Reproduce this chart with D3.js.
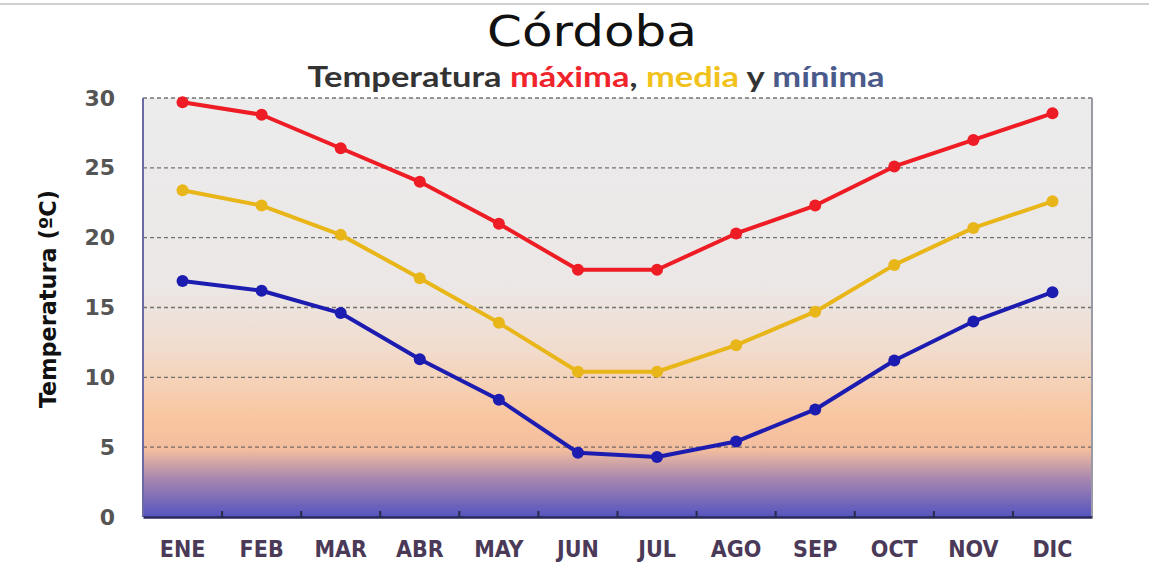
<!DOCTYPE html>
<html><head><meta charset="utf-8">
<script src="https://cdn.jsdelivr.net/npm/d3@7"></script>
<style>body{margin:0;background:#fff}svg{display:block}</style>
</head><body>
<svg id="c" width="1149" height="568"></svg>
<script>
const months = ["ENE","FEB","MAR","ABR","MAY","JUN","JUL","AGO","SEP","OCT","NOV","DIC"];
const tmax = [29.7,28.8,26.4,24.0,21.0,17.7,17.7,20.3,22.3,25.1,27.0,28.9];
const tmed = [23.4,22.3,20.2,17.1,13.9,10.4,10.4,12.3,14.7,18.05,20.7,22.6];
const tmin = [16.9,16.2,14.6,11.3,8.4,4.6,4.3,5.4,7.7,11.2,14.0,16.1];
const yTicks = [0,5,10,15,20,25,30];

const svg = d3.select("#c");
const L = 143, R = 1092, T = 98, B = 517;

svg.append("line").attr("x1",0).attr("x2",1149).attr("y1",4).attr("y2",4).attr("stroke","#d0d0d0").attr("stroke-width",2);

const x = d3.scaleBand().domain(months).range([L,R]).padding(0);
const y = d3.scaleLinear().domain([0,30]).range([B,T]);

const defs = svg.append("defs");
const g = defs.append("linearGradient").attr("id","bg").attr("x1",0).attr("x2",0).attr("y1",0).attr("y2",1);
[[0,"#ececec"],[0.45,"#ebe7e6"],[0.6,"#f1dccd"],[0.76,"#f9c6a0"],[0.84,"#f2bd9e"],[0.91,"#a686b0"],[1,"#5454c0"]]
 .forEach(([o,c])=>g.append("stop").attr("offset",o).attr("stop-color",c));

svg.append("rect").attr("x",L).attr("y",T).attr("width",R-L).attr("height",B-T).attr("fill","url(#bg)");

svg.append("g").selectAll("line").data(yTicks.filter(d=>d>0)).join("line")
  .attr("x1",L).attr("x2",R).attr("y1",d=>y(d)).attr("y2",d=>y(d))
  .attr("stroke","#555").attr("stroke-width",1.3).attr("stroke-dasharray","4,3").attr("opacity",0.8);

svg.append("line").attr("x1",R).attr("x2",R).attr("y1",T).attr("y2",B).attr("stroke","#9a9aa6").attr("stroke-width",2);
svg.append("line").attr("x1",L).attr("x2",L).attr("y1",T).attr("y2",B).attr("stroke","#6a6aa8").attr("stroke-width",2);

const xAxis = svg.append("g").attr("transform",`translate(0,${B})`)
  .call(d3.axisBottom(x).tickSize(0).tickPadding(24));
xAxis.select(".domain").attr("stroke","#2a2a5a").attr("stroke-width",2.5);
xAxis.selectAll("text").attr("font-family","'DejaVu Sans Condensed','DejaVu Sans'").attr("font-weight","bold")
  .attr("font-size","23px").attr("fill","#4a3a58").attr("dy","0.71em");
svg.append("g").selectAll("line").data(months.slice(1)).join("line")
  .attr("x1",d=>x(d)).attr("x2",d=>x(d)).attr("y1",B).attr("y2",B-6)
  .attr("stroke","#2a2a4a").attr("stroke-width",2);

const yAxis = svg.append("g").attr("transform",`translate(${L},0)`)
  .call(d3.axisLeft(y).tickValues(yTicks).tickSize(0).tickPadding(28));
yAxis.select(".domain").remove();
yAxis.selectAll("text").attr("font-family","'DejaVu Sans', Lato").attr("font-weight","bold")
  .attr("font-size","22px").attr("fill","#555");

svg.append("text").attr("transform","translate(56,299) rotate(-90)")
  .attr("text-anchor","middle").attr("font-family","'DejaVu Sans Condensed','DejaVu Sans'").attr("font-weight","bold")
  .attr("font-size","23px").attr("fill","#111").attr("textLength",218).attr("lengthAdjust","spacingAndGlyphs")
  .text("Temperatura (ºC)");

svg.append("text").attr("x",592).attr("y",46).attr("text-anchor","middle")
  .attr("font-family","'DejaVu Sans', Lato").attr("font-size","43px").attr("fill","#111")
  .attr("textLength",210).attr("lengthAdjust","spacingAndGlyphs").text("Córdoba");
const st = svg.append("text").attr("x",596).attr("y",87).attr("text-anchor","middle")
  .attr("font-family","Lato, 'DejaVu Sans'").attr("font-weight","bold").attr("font-size","28px")
  .attr("textLength",577).attr("lengthAdjust","spacingAndGlyphs");
st.append("tspan").attr("fill","#333").text("Temperatura ");
st.append("tspan").attr("fill","#f0242a").text("máxima");
st.append("tspan").attr("fill","#333").text(", ");
st.append("tspan").attr("fill","#f2c21c").text("media");
st.append("tspan").attr("fill","#333").text(" y ");
st.append("tspan").attr("fill","#4a5a8a").text("mínima");

const series = [[tmax,"#ee1c24"],[tmed,"#e8b619"],[tmin,"#1c1cb0"]];
const line = d3.line().x((d,i)=>x(months[i])+x.bandwidth()/2).y(d=>y(d));
series.forEach(([vals,col])=>{
  svg.append("path").datum(vals).attr("d",line).attr("fill","none").attr("stroke",col).attr("stroke-width",4).attr("stroke-linejoin","round");
  svg.append("g").selectAll("circle").data(vals).join("circle")
    .attr("cx",(d,i)=>x(months[i])+x.bandwidth()/2).attr("cy",d=>y(d)).attr("r",6).attr("fill",col);
});
</script>
</body></html>
